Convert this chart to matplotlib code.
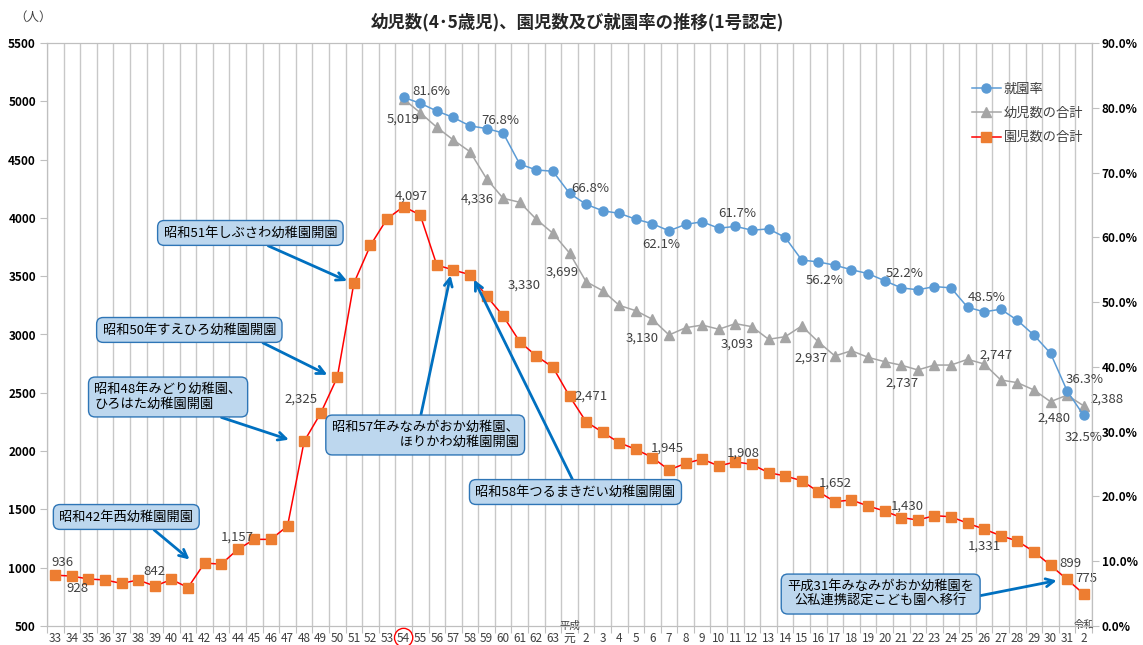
import numpy as np
import matplotlib
matplotlib.use('Agg')
import matplotlib.pyplot as plt
from matplotlib.patches import Ellipse
import matplotlib.transforms as mtransforms

plt.rcParams['font.family'] = ['Noto Sans CJK JP', 'DejaVu Sans']

# x categories: 昭和33..63, 平成元..31, 令和2
x_labels = ['33', '34', '35', '36', '37', '38', '39', '40', '41', '42', '43', '44', '45', '46',
            '47', '48', '49', '50', '51', '52', '53', '54', '55', '56', '57', '58', '59', '60',
            '61', '62', '63', '元', '2', '3', '4', '5', '6', '7', '8', '9', '10', '11', '12',
            '13', '14', '15', '16', '17', '18', '19', '20', '21', '22', '23', '24', '25', '26',
            '27', '28', '29', '30', '31', '2']

# 園児数の合計 (all years)
enji = [936, 928, 903, 895, 865, 895, 842, 899, 830, 1040, 1030, 1157, 1243, 1243, 1357,
        2083, 2325, 2633, 3440, 3765, 3992, 4097, 4025, 3596, 3553, 3513, 3330, 3159, 2938,
        2816, 2719, 2471, 2252, 2161, 2072, 2015, 1945, 1838, 1895, 1932, 1872, 1908, 1886,
        1815, 1787, 1746, 1652, 1566, 1581, 1529, 1486, 1430, 1409, 1446, 1437, 1381, 1331,
        1274, 1229, 1137, 1021, 899, 775]

# 幼児数の合計 (from 昭和54)
yoji_start = 21
yoji = [5019, 4902, 4777, 4668, 4568, 4336, 4168, 4134, 3988, 3868, 3699, 3453, 3376, 3250,
        3204, 3130, 2996, 3058, 3081, 3045, 3093, 3067, 2959, 2981, 3073, 2937, 2816, 2861,
        2804, 2767, 2737, 2696, 2738, 2738, 2787, 2747, 2610, 2587, 2524, 2424, 2480, 2388]

# 就園率 (%)
rate = [81.6, 80.7, 79.5, 78.5, 77.2, 76.8, 76.1, 71.3, 70.4, 70.2, 66.8, 65.1, 64.1, 63.7,
        62.8, 62.1, 61.0, 62.0, 62.4, 61.4, 61.7, 61.1, 61.3, 60.0, 56.5, 56.2, 55.7, 55.0,
        54.4, 53.3, 52.2, 51.9, 52.4, 52.2, 49.2, 48.5, 48.9, 47.2, 44.9, 42.1, 36.3, 32.5]

notes = [
    ('昭和42年西幼稚園開園', 9),
    ('昭和48年みどり幼稚園、\nひろはた幼稚園開園', 15),
    ('昭和50年すえひろ幼稚園開園', 17),
    ('昭和51年しぶさわ幼稚園開園', 18),
    ('昭和57年みなみがおか幼稚園、\n　　　ほりかわ幼稚園開園', 24),
    ('昭和58年つるまきだい幼稚園開園', 25),
    ('平成31年みなみがおか幼稚園を\n公私連携認定こども園へ移行', 61),
]

W, H = 1143, 645
fig = plt.figure(figsize=(W / 100, H / 100), dpi=100)
L, R, T, B = 47, 1092, 43, 626
ax = fig.add_axes([L / W, 1 - B / H, (R - L) / W, (B - T) / H])
ax2 = ax.twinx()

n = len(x_labels)
xs = np.arange(n)
xy = np.arange(yoji_start, yoji_start + len(yoji))

ax.plot(xs, enji, color='#ff0000', lw=1.1, marker='s', ms=6.5, mfc='#ed7d31', mec='#ed7d31',
        label='園児数の合計', zorder=3)
ax.plot(xy, yoji, color='#a5a5a5', lw=1.1, marker='^', ms=6.5, mfc='#a5a5a5', mec='#a5a5a5',
        label='幼児数の合計', zorder=3)
ax2.plot(xy, rate, color='#5b9bd5', lw=1.1, marker='o', ms=6.5, mfc='#5b9bd5', mec='#5b9bd5',
         label='就園率', zorder=3)

ax.set_xlim(-0.5, n - 0.5)
ax.set_ylim(500, 5500)
ax.set_yticks(np.arange(500, 5501, 500))
ax2.set_ylim(0, 90)
ax2.set_yticks(np.arange(0, 91, 10))
ax2.set_yticklabels([f'{v:.1f}%' for v in np.arange(0, 91, 10)])

# boundaries as major ticks + gridlines, labels on minor ticks
ax.set_xticks(np.arange(-0.5, n, 1))
ax.set_xticklabels([])
ax.set_xticks(xs, minor=True)
ax.set_xticklabels(x_labels, minor=True)
ax.tick_params(axis='x', which='major', length=5, color='#bfbfbf')
ax.tick_params(axis='x', which='minor', length=0, pad=4.5, labelsize=8.5, labelcolor='#404040')
ax.grid(axis='x', which='major', color='#c8c8c8', lw=1)
ax.set_axisbelow(True)

for a in (ax, ax2):
    for s in a.spines.values():
        s.set_color('#bfbfbf')
ax.tick_params(axis='y', length=5, color='#bfbfbf', labelsize=8.5, pad=3)
ax2.tick_params(axis='y', length=5, color='#bfbfbf', labelsize=8.5, pad=2)
for lab in ax.get_yticklabels() + ax2.get_yticklabels():
    lab.set_fontweight('bold')

btrans = mtransforms.blended_transform_factory(ax.transData, ax.transAxes)
ax.text(31, 0.001, '平成', transform=btrans, ha='center', va='center', fontsize=7.5,
        color='#404040')
ax.text(62, 0.001, '令和', transform=btrans, ha='center', va='center', fontsize=7.5,
        color='#404040')
ax.add_patch(Ellipse((21, -0.02), 1.1, 0.032, transform=btrans, fill=False, ec='#ff0000',
                     lw=1, clip_on=False))

# data labels: index -> offset pixels
lab_col = '#404040'
enji_off = {0: (7, 13), 1: (6, -12), 6: (0, 15), 11: (0, 12), 16: (-20, 14), 21: (8, 10),
            26: (38, 11), 31: (22, 0), 36: (15, 9), 41: (8, 9), 46: (17, 9), 51: (6, 11),
            56: (0, -17), 61: (3, 16), 62: (3, 15)}
yoji_off = {21: (-1, -20), 26: (-9, -20), 31: (-7, -19), 36: (-10, -19), 41: (2, -20),
            46: (-7, -16), 51: (1, -18), 56: (12, 9), 61: (-13, -23), 62: (23, 7)}
rate_off = {21: (28, 6), 26: (14, 8), 31: (21, 5), 36: (9, -21), 41: (2, 13), 46: (6, -19),
            51: (3, 14), 56: (3, 14), 61: (18, 11), 62: (0, -22)}

for i, (dx, dy) in enji_off.items():
    ax.annotate(f'{enji[i]:,}', (i, enji[i]), xytext=(dx, dy), textcoords='offset pixels',
                ha='center', va='center', fontsize=9.5, color=lab_col)
for i, (dx, dy) in yoji_off.items():
    v = yoji[i - yoji_start]
    ax.annotate(f'{v:,}', (i, v), xytext=(dx, dy), textcoords='offset pixels',
                ha='center', va='center', fontsize=9.5, color=lab_col)
for i, (dx, dy) in rate_off.items():
    v = rate[i - yoji_start]
    ax2.annotate(f'{v:.1f}%', (i, v), xytext=(dx, dy), textcoords='offset pixels',
                 ha='center', va='center', fontsize=9.5, color=lab_col)

# callouts: box centre (x data, y data), multialign, relpos, arrow-tip shift
box_pos = [((4.28, 1435), 'left', (0.65, 0.0), (-0.65, 0)),
           ((6.8, 2464), 'left', (0.73, 0.0), (-0.6, 0)),
           ((8.08, 3039), 'left', (0.85, 0.0), (-0.3, 0)),
           ((11.76, 3871), 'left', (0.52, 0.0), (-0.1, 0)),
           ((22.3, 2138), 'right', (0.47, 1.0), (-0.1, 0)),
           ((31.36, 1649), 'left', (0.5, 1.0), (0.1, 0)),
           ((49.76, 774), 'center', (1.0, 0.4), (-0.3, 0))]
box_style = dict(boxstyle='round,pad=0.45,rounding_size=0.5', fc='#bdd7ee', ec='#2e75b6', lw=1)
for (txt, idx), (pos, malign, rp, off) in zip(notes, box_pos):
    ax2.annotate(txt, xy=(idx + off[0], enji[idx] + off[1]), xycoords=ax.transData,
                 xytext=pos, textcoords=ax.transData, ha='center', va='center',
                 multialignment=malign, fontsize=9.5, color='#000000', bbox=box_style,
                 arrowprops=dict(arrowstyle='->,head_length=0.6,head_width=0.3',
                                 color='#0070c0', lw=2, relpos=rp, shrinkA=0, shrinkB=4),
                 zorder=5)

h1, l1 = ax.get_legend_handles_labels()
h2, l2 = ax2.get_legend_handles_labels()
leg = ax2.legend([h2[0], h1[1], h1[0]], [l2[0], l1[1], l1[0]], loc='upper left',
                 bbox_to_anchor=(960 / W, 1 - 71 / H), bbox_transform=fig.transFigure,
                 frameon=False, fontsize=9.5, labelspacing=0.85, handlelength=2.2,
                 handletextpad=0.2)
for t in leg.get_texts():
    t.set_color(lab_col)

fig.text(33 / W, 1 - 17 / H, '（人）', ha='center', va='center', fontsize=9, color='#404040')
fig.text(577 / W, 1 - 22 / H, '幼児数(4･5歳児)、園児数及び就園率の推移(1号認定)',
         ha='center', va='center', fontsize=12.5, fontweight='bold', color='#262626')

fig.savefig('out.png', dpi=100)
